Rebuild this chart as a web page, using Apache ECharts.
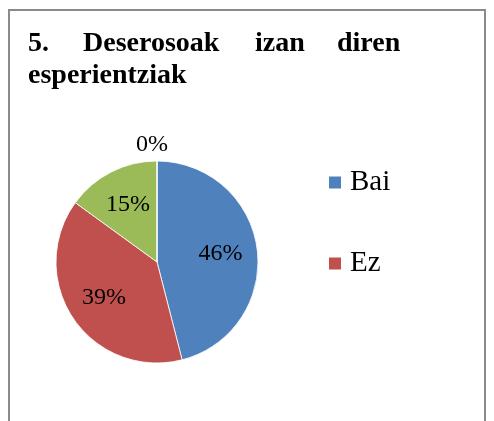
<!DOCTYPE html>
<html>
<head>
<meta charset="utf-8">
<script src="https://cdn.jsdelivr.net/npm/echarts@6/dist/echarts.min.js"></script>
<style>
html,body{margin:0;padding:0;background:#fff;}
#c{width:494px;height:421px;}
</style>
</head>
<body>
<div id="c"></div>
<script>
// Data
const categories = ['Bai', 'Ez', 'Batzuetan', 'Beste'];
const values = [46, 39, 15, 0];
const legendItems = ['Bai', 'Ez'];
const titleLine1 = ['5.', 'Deserosoak', 'izan', 'diren'];
const titleLine2 = 'esperientziak';

const colors = ['#4F81BD', '#C0504D', '#9BBB59', '#8064A2'];
const serif = '"Liberation Serif", "Times New Roman", serif';

const chart = echarts.init(document.getElementById('c'), null, {renderer: 'canvas'});

const wordX = [28, 83, 255, 337];
const titleStyle = {fontFamily: serif, fontWeight: 'bold', fontSize: 28, lineHeight: 32, color: '#000'};
const titles = titleLine1.map((w, i) => ({
  text: w, left: wordX[i], top: 28, padding: 0, textStyle: titleStyle
}));
titles.push({text: titleLine2, left: 28, top: 60, padding: 0, textStyle: titleStyle});

const pieData = categories.map((c, i) => ({name: c, value: values[i], itemStyle: {color: colors[i]}}));
const labelData = categories.map((c, i) => {
  const d = {name: c, value: values[i]};
  if (values[i] === 0) {
    d.label = {position: 'outside'};
    d.labelLine = {show: false, length: 16, length2: 0};
  }
  return d;
});

chart.setOption({
  animation: false,
  color: colors,
  title: titles,
  graphic: [{
    type: 'rect', shape: {x: 9, y: 10, width: 476, height: 450},
    style: {fill: 'none', stroke: '#8a8a8a', lineWidth: 2}, silent: true
  }],
  legend: {
    data: legendItems,
    orient: 'vertical',
    left: 327, top: 168, padding: 0,
    itemWidth: 14, itemHeight: 14, itemGap: 52,
    icon: 'rect',
    textStyle: {fontFamily: serif, fontSize: 29, lineHeight: 28, color: '#000', padding: [0, 0, 0, 3]}
  },
  series: [{
    type: 'pie',
    center: [157, 262],
    radius: [0, 101],
    startAngle: 90,
    clockwise: true,
    data: pieData,
    label: {show: false},
    labelLine: {show: false},
    itemStyle: {borderColor: '#fff', borderWidth: 0.8},
    emphasis: {disabled: true}
  }, {
    type: 'pie',
    center: [157, 262],
    radius: [21, 101],
    startAngle: 90,
    clockwise: true,
    data: labelData,
    itemStyle: {color: 'rgba(0,0,0,0)'},
    label: {show: true, position: 'inside', formatter: '{c}%', fontFamily: serif, fontSize: 24, color: '#000'},
    labelLine: {show: false},
    labelLayout: function (p) {
      if (values[p.dataIndex] === 0) return {align: 'center'};
    },
    emphasis: {disabled: true},
    silent: true
  }]
});
</script>
</body>
</html>
